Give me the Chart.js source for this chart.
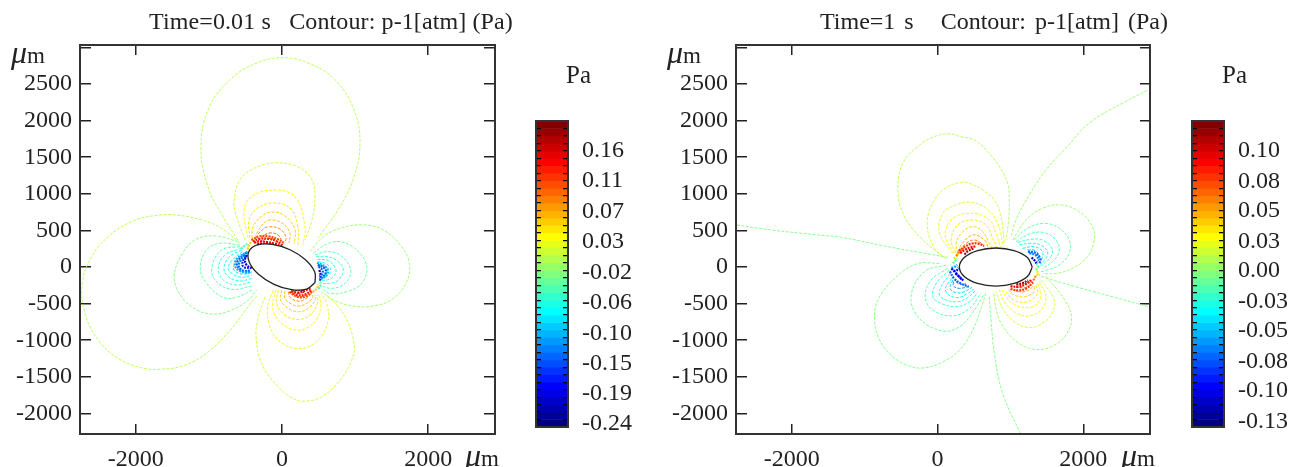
<!DOCTYPE html>
<html>
<head>
<meta charset="utf-8">
<title>Contour</title>
<script src="https://cdn.jsdelivr.net/npm/chart.js@4/dist/chart.umd.min.js"></script>
<style>
	html, body { margin:0; padding:0; background:#fff; width:1294px; height:467px; overflow:hidden; }
	canvas { position:absolute; top:0; filter:blur(0.4px); }
	.txt { position:absolute; font-family:"Liberation Serif", serif; color:#222; white-space:pre; line-height:1; filter:blur(0.4px); }
	.ttl { font-size:24px; top:9px; }
	.pa { font-size:25px; top:62px; }
	.um { font-size:23px; }
	.um i { font-size:32px; }
</style>
</head>
<body>
<div class="txt ttl" style="left:149px;letter-spacing:0.11px">Time=0.01 s   Contour: p-1[atm] (Pa)</div>
<div class="txt ttl" style="left:820px;word-spacing:3px">Time=1 s   Contour: p-1[atm] (Pa)</div>
<div class="txt pa" style="left:566px">Pa</div>
<div class="txt pa" style="left:1222px">Pa</div>
<div class="txt um" style="left:11px;top:36px"><i>μ</i>m</div>
<div class="txt um" style="left:465px;top:439px"><i>μ</i>m</div>
<div class="txt um" style="left:667px;top:36px"><i>μ</i>m</div>
<div class="txt um" style="left:1121px;top:439px"><i>μ</i>m</div>
<canvas id="chart_left" width="650" height="467" style="left:0"></canvas>
<canvas id="bar_left" width="120" height="467" style="left:520px"></canvas>
<canvas id="chart_right" width="500" height="467" style="left:656px"></canvas>
<canvas id="bar_right" width="120" height="467" style="left:1176px"></canvas>
<script>
// axis ticks (um)
const xTicks = [-2000, 0, 2000];
const yTicks = [-2000, -1500, -1000, -500, 0, 500, 1000, 1500, 2000, 2500, 3000];
const yLabels = ['-2000', '-1500', '-1000', '-500', '0', '500', '1000', '1500', '2000', '2500', ''];

// colorbar
const jet = [
	'#000080','#000099','#0000b3','#0000cc','#0000e6','#0000ff','#001aff','#0033ff','#004dff','#0066ff','#0080ff',
	'#0099ff','#00b3ff','#00ccff','#00e6ff','#00ffff','#1affe6','#33ffcc','#4dffb3','#66ff99','#80ff80',
	'#99ff66','#b3ff4d','#ccff33','#e6ff1a','#ffff00','#ffe600','#ffcc00','#ffb300','#ff9900','#ff8000',
	'#ff6600','#ff4d00','#ff3300','#ff1a00','#ff0000','#e60000','#cc0000','#b30000','#990000','#800000'
];
const barTicksLeft = [-0.24, -0.196, -0.151, -0.107, -0.062, -0.018, 0.027, 0.071, 0.116, 0.16];
const barLabelsLeft = ['-0.24', '-0.19', '-0.15', '-0.10', '-0.06', '-0.02', '0.03', '0.07', '0.11', '0.16'];
const barTicksRight = [-0.13, -0.104, -0.079, -0.053, -0.028, -0.002, 0.023, 0.049, 0.074, 0.10];
const barLabelsRight = ['-0.13', '-0.10', '-0.08', '-0.05', '-0.03', '0.00', '0.03', '0.05', '0.08', '0.10'];

// hole outlines
const holeLeft = [453,-211, 447,-65, 321,99, 110,236, -131,309, -337,301, -453,211, -447,65, -321,-99, -110,-236, 131,-309, 337,-301, 453,-211];
const holeRight = [1300,0, 1233,130, 1050,225, 800,260, 550,225, 367,130, 300,0, 367,-130, 550,-225, 800,-260, 1050,-225, 1233,-130, 1300,0];

// t=0.01 s contours, x,y pairs in um
const leftNorth = [
	[-602,369, -821,711, -1012,1094, -1108,1642, -999,2175, -711,2558, -369,2777, 14,2859, 383,2777, 725,2558, 985,2148, 1067,1669, 971,1190, 766,780, 492,397],
	[-506,369, -629,711, -657,875, -575,1190, -369,1354, -68,1423, 246,1354, 410,1190, 451,958, 410,643, 315,369],
	[-465,397, -520,739, -438,944, -123,1053, 178,958, 315,547, 287,301],
	[-438,397, -451,643, -328,807, -123,875, 109,807, 219,547, 219,287],
	[-410,397, -397,547, -274,698, -137,752, 41,698, 178,506, 164,315],
	[-369,397, -342,465, -246,602, -164,643, 0,602, 109,465, 96,328],
	[-356,397, -301,479, -192,547, -27,520, 55,410, 41,342],
	[-328,356, -260,424, -164,465, -55,438, 0,356],
	[-301,328, -219,383, -123,383, -41,328]
];
const leftNorthBands = [22, 23, 25, 26, 27, 28, 30, 32, 34];
const leftSouth = [
	[-232,-406, -323,-679, -355,-953, -278,-1318, -73,-1614, 155,-1797, 315,-1833, 543,-1774, 794,-1546, 953,-1272, 990,-1090, 908,-771, 771,-543, 612,-383],
	[-118,-315, -196,-543, -164,-816, -27,-1021, 247,-1113, 497,-999, 634,-725, 611,-497, 543,-360],
	[-86,-315, -127,-565, 0,-771, 224,-862, 429,-771, 529,-565, 511,-383],
	[-50,-315, -73,-497, 41,-657, 224,-716, 383,-657, 484,-497, 484,-383],
	[-4,-315, -18,-451, 87,-565, 224,-611, 361,-565, 452,-451, 452,-383],
	[41,-324, 41,-429, 132,-506, 224,-533, 338,-497, 420,-415, 420,-369],
	[87,-337, 110,-415, 224,-465, 328,-433, 392,-369],
	[132,-360, 224,-406, 315,-388, 374,-337],
	[155,-324, 224,-360, 315,-342]
];
const leftSouthBands = [23, 24, 25, 26, 27, 28, 30, 32, 34];
const leftWest = [
	[-575,324, -826,529, -1099,643, -1464,712, -1738,703, -2057,621, -2376,415, -2604,142, -2732,-223, -2695,-633, -2513,-998, -2239,-1249, -1920,-1377, -1646,-1395, -1327,-1340, -1008,-1158, -689,-839, -461,-542, -333,-383],
	[-598,347, -917,425, -1190,370, -1373,165, -1473,-109, -1418,-337, -1236,-542, -962,-643, -689,-588, -461,-451, -347,-314],
	[-575,301, -848,324, -1031,233, -1117,-18, -1031,-223, -803,-415, -598,-405, -415,-314],
	[-575,279, -826,233, -962,-18, -894,-200, -689,-305, -415,-259],
	[-552,256, -780,165, -871,-18, -803,-177, -620,-246, -415,-200],
	[-552,233, -725,133, -794,-18, -734,-132, -575,-191, -415,-155],
	[-538,210, -680,96, -734,-18, -675,-95, -552,-141, -415,-109],
	[-529,187, -620,73, -666,-18, -611,-77, -506,-95, -406,-63]
];
const leftWestBands = [22, 20, 19, 18, 17, 16, 15, 13];
const leftEast = [
	[383,210, 566,415, 794,529, 1113,575, 1387,506, 1637,278, 1742,50, 1706,-201, 1523,-429, 1250,-533, 976,-533, 703,-451, 543,-337],
	[429,187, 589,301, 794,347, 1022,233, 1159,5, 1090,-223, 885,-337, 657,-360, 543,-292],
	[452,164, 612,210, 794,164, 940,-41, 862,-223, 680,-292, 543,-255],
	[465,141, 634,141, 771,73, 839,-41, 771,-178, 657,-223, 543,-223],
	[484,105, 634,87, 739,-41, 693,-141, 612,-178, 529,-191],
	[493,73, 612,41, 666,-41, 634,-109, 529,-155],
	[497,37, 575,5, 612,-50, 575,-109, 520,-132]
];
const leftEastBands = [21, 19, 18, 17, 16, 15, 13];
const leftBlobs = [
	[-420,370, -300,420, -180,420, -60,380, 40,320],
	[-400,350, -300,385, -180,385, -70,350, 20,290],
	[100,-340, 220,-410, 330,-400, 420,-330],
	[120,-330, 220,-385, 330,-370, 410,-310],
	[-470,210, -620,110, -640,10, -560,-60, -420,-80],
	[-480,200, -600,90, -610,20, -540,-50, -430,-60],
	[480,60, 600,0, 630,-60, 590,-130, 510,-170],
	[490,30, 585,-20, 600,-70, 570,-130, 515,-165],
	[-380,330, -300,350, -200,340, -100,320, 0,280],
	[-340,310, -200,320, -80,300],
	[-470,240, -450,300, -420,340],
	[-560,250, -510,290, -470,320],
	[-516,165, -575,73, -589,5, -529,-50, -424,-50],
	[-497,142, -538,73, -529,5, -438,-18],
	[-484,165, -506,96, -484,28, -415,-18],
	[497,5, 552,-41, 552,-96, 511,-123],
	[511,-41, 529,-109, 520,-187],
	[130,-330, 220,-350, 320,-320, 400,-290],
	[180,-310, 290,-320],
	[420,-340, 480,-290, 490,-240],
	[500,-300, 530,-240, 520,-190]
];
const leftBlobBands = [32, 34, 32, 34, 12, 9, 12, 8, 35, 39, 27, 18, 10, 7, 3, 9, 3, 36, 39, 27, 18];

// t=1 s contours
const rightNorth = [
	[73,141, -223,392, -451,689, -543,1031, -474,1418, -269,1646, -41,1783, 187,1819, 301,1783, 483,1746, 666,1600, 848,1372, 962,1144, 985,916, 976,643, 939,369],
	[119,119, -41,255, -141,597, -41,917, 142,1099, 347,1158, 438,1144, 620,1053, 780,916, 871,688, 917,324],
	[210,187, 28,461, 73,734, 255,848, 438,885, 666,803, 825,597, 903,278],
	[233,187, 109,415, 187,643, 461,734, 711,643, 812,438, 871,255],
	[256,187, 187,369, 278,575, 461,643, 666,575, 757,392, 825,255],
	[278,187, 256,324, 347,483, 484,552, 620,483, 711,324, 757,242],
	[292,210, 324,301, 484,438, 643,369, 702,246],
	[310,233, 392,324, 506,369, 611,315, 657,242]
];
const rightNorthBands = [22, 23, 24, 25, 26, 27, 29, 31];
const rightSouthWest = [
	[27,50, -292,41, -611,-178, -816,-451, -862,-725, -793,-998, -611,-1226, -383,-1354, -178,-1377, 73,-1295, 301,-1135, 483,-862, 620,-497, 666,-337],
	[119,28, -178,-64, -360,-383, -269,-679, 50,-871, 301,-816, 506,-588, 629,-383],
	[141,-18, -87,-178, -169,-406, -64,-588, 210,-666, 438,-565, 597,-360],
	[164,-41, -18,-223, -64,-406, 50,-497, 255,-542, 438,-474, 552,-351],
	[173,-86, 50,-269, 27,-383, 119,-451, 278,-474, 415,-415, 520,-324],
	[196,-155, 109,-292, 155,-383, 292,-415, 415,-360, 497,-305],
	[210,-178, 173,-292, 255,-351, 369,-337, 474,-278],
	[219,-200, 219,-260, 301,-292, 415,-269],
	[255,-200, 301,-232, 392,-232]
];
const rightSouthWestBands = [20, 19, 18, 17, 16, 15, 13, 10, 6];
const rightSouthEast = [
	[1487,-132, 1715,-406, 1838,-679, 1760,-930, 1578,-1080, 1350,-1126, 1122,-1044, 917,-839, 812,-611, 771,-337],
	[1418,-178, 1601,-451, 1555,-657, 1395,-793, 1236,-825, 1053,-748, 894,-565, 803,-337],
	[1395,-200, 1487,-406, 1418,-588, 1236,-670, 1053,-611, 917,-474, 848,-314],
	[1373,-223, 1418,-383, 1350,-520, 1213,-556, 1053,-510, 939,-406, 871,-292],
	[1350,-246, 1373,-360, 1282,-451, 1167,-483, 1031,-442, 917,-314],
	[1327,-269, 1313,-351, 1190,-406, 1053,-383, 962,-292],
	[1304,-269, 1236,-324, 1122,-337, 1008,-278],
	[1282,-246, 1190,-282, 1076,-278]
];
const rightSouthEastBands = [21, 23, 24, 25, 26, 27, 29, 31];
const rightNorthEast = [
	[1031,369, 1213,643, 1441,802, 1692,848, 1943,757, 2125,551, 2148,369, 2057,141, 1851,-18, 1623,-87, 1441,-87],
	[1053,369, 1236,529, 1464,597, 1669,529, 1806,369, 1806,187, 1669,28, 1509,-41, 1418,-64],
	[1076,346, 1259,451, 1464,470, 1624,369, 1669,232, 1601,96, 1441,-18],
	[1099,337, 1282,378, 1441,369, 1569,255, 1555,141, 1418,13],
	[1122,301, 1282,324, 1418,301, 1509,210, 1487,118, 1409,36],
	[1167,255, 1327,278, 1441,210, 1432,118, 1395,59],
	[1236,232, 1341,223, 1395,141, 1373,72]
];
const rightNorthEastBands = [21, 19, 18, 17, 16, 14, 11];
const rightOpen = [
	[-2754,575, -2275,506, -1637,438, -1318,406, -725,287, -223,196, 141,132],
	[2877,2412, 2581,2262, 2079,1965, 1760,1623, 1487,1327, 1259,985, 1076,643, 1008,415],
	[1373,-87, 1441,-132, 1897,-269, 2399,-406, 2900,-543],
	[711,-406, 734,-725, 780,-1181, 894,-1728, 1136,-2275]
];
const rightOpenBands = [20, 21, 20, 20];
const rightBlobs = [
	[290,220, 380,280, 470,320, 560,320, 640,290],
	[1000,-300, 1110,-320, 1220,-290, 1310,-210],
	[170,-60, 230,-160, 330,-230, 430,-270],
	[190,-20, 260,-90, 360,-190],
	[1240,210, 1350,190, 1410,110, 1400,50],
	[310,190, 370,230, 450,270, 520,280],
	[370,170, 420,220, 500,255],
	[260,150, 300,210, 370,260],
	[230,110, 260,160, 290,190],
	[210,50, 240,80, 265,120],
	[190,-10, 230,0, 270,30],
	[220,-50, 260,-50, 285,-10],
	[250,-90, 290,-130, 330,-170],
	[1000,-260, 1100,-270, 1200,-240, 1280,-180],
	[1080,-240, 1170,-220, 1240,-180],
	[1240,-220, 1320,-170, 1350,-110],
	[1370,-120, 1370,-60, 1350,-30],
	[1350,-40, 1380,10, 1360,50],
	[1290,130, 1340,80, 1360,40],
	[1260,190, 1350,160, 1390,90]
];
const rightBlobBands = [33, 33, 9, 5, 9, 35, 38, 30, 26, 19, 12, 4, 4, 35, 38, 30, 26, 18, 4, 10];

function toPoints(flat) {
	let pts = [];
	for (let i = 0; i < flat.length; i += 2) {
		pts.push({x: flat[i], y: flat[i + 1]});
	}
	return pts;
}

function contourSets(lines, bands, width, dash) {
	return lines.map((line, i) => ({
		data: toPoints(line),
		showLine: true,
		pointRadius: 0,
		borderColor: jet[bands[i]],
		borderWidth: width,
		borderDash: dash,
		tension: 0.4
	}));
}

function holeSet(flat) {
	return {
		data: toPoints(flat),
		showLine: true,
		pointRadius: 0,
		borderColor: '#222',
		borderWidth: 1.3,
		backgroundColor: '#fff',
		fill: 'shape',
		tension: 0.4
	};
}

const frame = {
	id: 'frame',
	afterDraw(chart) {
		let a = chart.chartArea;
		let ctx = chart.ctx;
		ctx.save();
		ctx.strokeStyle = '#333';
		ctx.lineWidth = 2;
		ctx.strokeRect(a.left, a.top, a.right - a.left, a.bottom - a.top);
		ctx.restore();
	}
};

const serif = {family: '"Liberation Serif", serif', size: 24};

function contourChart(id, left, right, datasets) {
	return new Chart(document.getElementById(id), {
		type: 'scatter',
		data: {datasets: datasets},
		plugins: [frame],
		options: {
			responsive: false,
			animation: false,
			layout: {padding: {left: 0, top: 45, right: right, bottom: 0}},
			plugins: {legend: {display: false}, tooltip: {enabled: false}},
			scales: {
				x: {
					type: 'linear',
					min: -2763,
					max: 2914,
					afterBuildTicks: s => { s.ticks = xTicks.map(v => ({value: v})); },
					afterFit: s => { s.height = 33; },
					border: {display: false, dash: [10, 369, 10, 200]},
					grid: {color: '#222', lineWidth: 1.5, drawTicks: false},
					ticks: {font: serif, color: '#222', padding: 11, maxRotation: 0, callback: v => String(v)}
				},
				y: {
					type: 'linear',
					min: -2281,
					max: 3033,
					afterBuildTicks: s => { s.ticks = yTicks.map(v => ({value: v})); },
					afterFit: s => { s.width = left; },
					border: {display: false, dash: [11, 393, 11, 200]},
					grid: {color: '#222', lineWidth: 1.5, drawTicks: false},
					ticks: {font: serif, color: '#222', padding: 8, callback: (v, i) => yLabels[i]}
				}
			}
		}
	});
}

function barChart(id, ticks, labels, min, max) {
	return new Chart(document.getElementById(id), {
		type: 'bar',
		data: {
			labels: jet,
			datasets: [{
				data: jet.map(() => 1),
				backgroundColor: jet,
				borderWidth: 0,
				barPercentage: 1,
				categoryPercentage: 1
			}]
		},
		plugins: [frame],
		options: {
			indexAxis: 'y',
			responsive: false,
			animation: false,
			layout: {padding: {left: 16, top: 121, right: 0, bottom: 40}},
			plugins: {legend: {display: false}, tooltip: {enabled: false}},
			scales: {
				x: {display: false, min: 0, max: 1},
				y: {
					reverse: true,
					afterFit: s => { s.width = 0; },
					border: {display: false, dash: [5, 22, 5, 100]},
					grid: {color: '#000', lineWidth: 1.2, offset: true, drawTicks: false, z: 1},
					ticks: {display: false, autoSkip: false}
				},
				yb: {
					type: 'linear',
					position: 'right',
					offset: false,
					min: min,
					max: max,
					afterBuildTicks: s => { s.ticks = ticks.map(v => ({value: v})); },
					afterFit: s => { s.width = 72; },
					border: {display: false},
					grid: {display: false, offset: false, drawTicks: false},
					ticks: {font: serif, color: '#222', padding: 14, callback: (v, i) => labels[i]}
				}
			}
		}
	});
}

Chart.defaults.font.family = '"Liberation Serif", serif';

const dash = [3, 1.5];
const speckle = [2, 1];
contourChart('chart_left', 80, 155, [
	holeSet(holeLeft),
	...contourSets(leftBlobs, leftBlobBands, 2.2, speckle),
	...contourSets(leftNorth, leftNorthBands, 0.9, dash),
	...contourSets(leftSouth, leftSouthBands, 0.9, dash),
	...contourSets(leftWest, leftWestBands, 0.9, dash),
	...contourSets(leftEast, leftEastBands, 0.9, dash)
]);
contourChart('chart_right', 80, 6, [
	holeSet(holeRight),
	...contourSets(rightBlobs, rightBlobBands, 2.2, speckle),
	...contourSets(rightNorth, rightNorthBands, 0.9, dash),
	...contourSets(rightSouthWest, rightSouthWestBands, 0.9, dash),
	...contourSets(rightSouthEast, rightSouthEastBands, 0.9, dash),
	...contourSets(rightNorthEast, rightNorthEastBands, 0.9, dash),
	...contourSets(rightOpen, rightOpenBands, 0.9, dash)
]);
barChart('bar_left', barTicksLeft, barLabelsLeft, -0.2444, 0.2039);
barChart('bar_right', barTicksRight, barLabelsRight, -0.1349, 0.1253);
</script>
</body>
</html>
